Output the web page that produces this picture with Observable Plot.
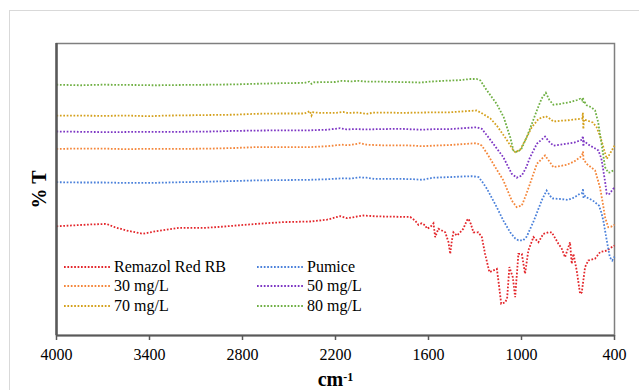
<!DOCTYPE html>
<html>
<head>
<meta charset="utf-8">
<script src="https://cdn.jsdelivr.net/npm/d3@7"></script>
<script src="https://cdn.jsdelivr.net/npm/@observablehq/plot@0.6"></script>
<style>
  html, body { margin: 0; padding: 0; background: #fff; }
  #wrap { position: relative; width: 639px; height: 390px; overflow: hidden; font-family: "Liberation Serif", "Times New Roman", serif; }
  #border { position: absolute; left: 9px; top: 10px; width: 700px; height: 500px; border: 1px solid #d9d9d9; box-sizing: border-box; }
  #legend { position: absolute; left: 64px; top: 257px; display: grid; grid-template-columns: 193px 160px; grid-auto-rows: 19.5px; }
  .item { display: flex; align-items: center; font-size: 16px; color: #000; white-space: nowrap; font-family: "Liberation Serif", serif; }
  .item svg { margin-right: 4px; }
</style>
</head>
<body>
<div id="wrap"><div id="border"></div></div>
<script>
// ---- data (wavenumber cm-1, %T offset as plotted) ----
const seriesNames = ["Remazol Red RB", "Pumice", "30 mg/L", "50 mg/L", "70 mg/L", "80 mg/L"];
const seriesColors = ["#e3262b", "#4a80da", "#f4863a", "#7d36c4", "#d4a01c", "#70b044"];
const xTicks = [4000, 3400, 2800, 2200, 1600, 1000, 400];

const remazol = [[4000,36.4],[3892,36.7],[3785,37],[3678,37.2],[3624,36.1],[3549,35],[3441,33.9],[3355,34.8],[3205,35.9],[3033,35.9],[2925,36.3],[2711,37.2],[2535,37.8],[2363,38],[2255,38.6],[2169,39.8],[2126,39.1],[2019,40],[1933,39.7],[1718,39.5],[1686,38.3],[1665,36.9],[1643,37.4],[1621,36.7],[1610,35.6],[1589,36.1],[1568,37.4],[1557,32.8],[1536,35.6],[1514,35],[1492,34.4],[1471,31.1],[1460,27.2],[1449,31.7],[1439,34.4],[1417,33.3],[1396,34.4],[1375,35.6],[1353,38.3],[1342,38.9],[1327,37.2],[1310,34.4],[1278,34.4],[1256,32.8],[1235,27.2],[1207,21.1],[1181,21.7],[1159,22.2],[1149,18.3],[1131,10.6],[1106,11],[1093,12.3],[1078,22.8],[1056,19.4],[1041,12.8],[1020,27.2],[998,27.2],[977,20.6],[956,28.3],[923,32.8],[891,31.1],[859,33.9],[827,34.4],[805,34.4],[762,30.6],[740,28.9],[719,26.1],[687,31.1],[676,23.9],[665,27.2],[644,21.7],[622,13.9],[611,14.4],[590,22.8],[569,25],[526,25.6],[493,27.8],[450,28.3],[410,29.7],[400,30]];

const pumice = [[4000,51.1],[3850,51],[3700,51],[3600,50.9],[3450,50.9],[3355,50.9],[3200,51.1],[3000,51.3],[2850,51.5],[2711,51.7],[2550,51.8],[2363,51.9],[2250,52.1],[2150,52.4],[2100,52.3],[2050,52.7],[2000,52.6],[1950,52.2],[1900,52.2],[1783,52.2],[1700,52.1],[1640,51.9],[1570,52.6],[1460,52.8],[1380,53],[1320,53.1],[1277,52.8],[1250,51],[1223,48.9],[1160,42.8],[1117,38.3],[1073,34.4],[1040,32.3],[1020,31.7],[990,31.7],[966,33],[920,38.3],[870,45],[838,48.3],[815,46.5],[800,45.7],[750,45.5],[700,45.2],[660,46],[622,47.3],[607,47.5],[603,49],[600,45.8],[590,46.5],[579,46],[540,45],[500,43.3],[485,41],[472,38.3],[450,31.7],[430,26.1],[415,25],[400,26.3]];

const c30 = [[4000,62.2],[3850,62.3],[3700,62.3],[3550,62.1],[3450,62.2],[3355,62.2],[3200,62.2],[3000,62.3],[2850,62.5],[2711,62.8],[2550,62.8],[2363,62.8],[2250,63.1],[2160,63.6],[2120,63.4],[2060,63.9],[2040,64.1],[2000,63.6],[1900,63.4],[1783,63.4],[1700,63.3],[1640,63.1],[1560,63.3],[1460,63.5],[1350,63.9],[1288,64.1],[1256,63.3],[1220,60.5],[1182,57.2],[1117,51.7],[1063,45],[1031,42.8],[998,43.3],[970,47],[945,50.6],[901,57.2],[848,60],[820,58],[794,56.1],[750,56.5],[708,56.9],[660,58],[622,59.4],[607,60.5],[603,61.3],[600,58.5],[590,58],[579,57.2],[525,55],[494,49.4],[475,44],[461,39.4],[440,36.1],[420,36.3],[408,36.7],[400,36.9]];

const c50 = [[4000,68],[3850,67.9],[3700,67.8],[3600,67.8],[3450,67.9],[3355,67.9],[3200,67.9],[3000,68],[2850,68.2],[2711,68.3],[2550,68.4],[2363,68.4],[2250,68.6],[2170,69.1],[2130,68.7],[2080,68.8],[2000,68.7],[1900,68.8],[1783,68.9],[1700,68.7],[1640,68.6],[1560,68.8],[1460,68.8],[1350,69.2],[1288,69.4],[1256,68.9],[1220,66.5],[1182,63.9],[1117,59.4],[1063,53.9],[1031,52.6],[998,53.3],[970,56],[945,59.4],[901,63.9],[848,66.3],[820,64.5],[794,63.3],[750,63.6],[708,63.9],[660,64.3],[622,65],[608,65.3],[604,66.5],[601,63],[597,64.8],[558,63.3],[530,62.5],[504,61.7],[485,59],[472,55],[460,51],[450,47.2],[433,47.2],[408,48.9],[400,49.3]];

const c70 = [[4000,73.3],[3850,73.3],[3700,73.2],[3550,73.3],[3400,73.1],[3300,73.3],[3150,73.4],[3000,73.5],[2850,73.6],[2711,73.9],[2550,74],[2400,74],[2365,74.8],[2355,73.3],[2345,74.4],[2300,74.2],[2200,74.2],[2150,74.5],[2126,74.2],[2050,74.3],[2000,73.9],[1950,74.3],[1850,74.3],[1783,74.2],[1650,74.3],[1550,74.4],[1460,74.4],[1350,74.8],[1290,75],[1256,74.1],[1200,72.3],[1160,70],[1100,65.6],[1052,61.7],[1040,61.1],[1009,61.9],[977,65],[934,69.4],[890,72.2],[843,73.1],[815,72.2],[794,71.3],[750,71.6],[708,71.7],[660,72],[622,72.2],[607,72.4],[604,74.3],[601,68.8],[597,72],[579,71.7],[540,71],[515,69.4],[490,66],[472,62.8],[450,58.9],[429,60.6],[400,63.3]];

const c80 = [[4000,83.6],[3850,83.4],[3700,83.6],[3500,83.5],[3355,83.4],[3200,83.5],[3000,83.6],[2850,83.7],[2711,83.9],[2550,84.1],[2400,84.2],[2370,84.6],[2355,83.9],[2340,84.4],[2200,84.5],[2160,84.9],[2100,84.7],[2050,84.9],[2000,84.6],[1900,84.6],[1800,84.5],[1700,84.4],[1650,84.3],[1600,84.6],[1500,84.9],[1400,85.1],[1330,85.5],[1290,85.5],[1265,85],[1230,82.2],[1160,77.2],[1115,72.8],[1073,66.1],[1052,61.7],[1035,61.2],[1020,61.4],[1000,62.3],[966,66.1],[930,71],[901,75],[870,79],[843,80.9],[820,78.5],[794,76.9],[750,77.2],[687,77.8],[640,78.5],[622,78.9],[610,78.4],[603,79.3],[598,77.2],[590,77.6],[579,76.7],[550,76.1],[525,75],[505,71],[494,67.3],[475,61],[461,56.1],[440,54.3],[429,54.4],[408,55],[400,55.2]];

const seriesData = [remazol, pumice, c30, c50, c70, c80];
const rows = seriesData.flatMap((arr, i) => arr.map(([wn, t]) => ({series: seriesNames[i], wn, t})));

const dash = "1.7,1.7";
const serif = "'Liberation Serif', 'Times New Roman', serif";
const chart = Plot.plot({
  width: 639,
  height: 390,
  marginLeft: 56,
  marginRight: 25,
  marginTop: 43,
  marginBottom: 55,
  style: {fontFamily: serif, fontSize: "16px", color: "#000", background: "transparent", overflow: "visible"},
  x: {domain: [4000, 400]},
  y: {domain: [0, 97.33], axis: null},
  color: {domain: seriesNames, range: seriesColors},
  marks: [
    Plot.frame({stroke: "#7f7f7f", strokeWidth: 1.5}),
    Plot.line(rows, {x: "wn", y: "t", z: "series", stroke: "series", strokeWidth: 1.8, strokeDasharray: dash, className: "spectra"}),
    Plot.ruleX([4000], {stroke: "#595959", strokeWidth: 2.5}),
    Plot.ruleY([0], {stroke: "#595959", strokeWidth: 2}),
    Plot.axisX({ticks: xTicks, tickFormat: d => String(d), tickSize: 5, tickPadding: 8, label: null, fontSize: 16, fontFamily: serif, stroke: "#595959", strokeWidth: 1.5}),
    Plot.text(["% T"], {frameAnchor: "left", dx: -17, rotate: -90, textAnchor: "middle", lineAnchor: "middle", fontWeight: "bold", fontSize: 20, fontFamily: serif}),
    Plot.text(["cm-1"], {frameAnchor: "bottom", dy: 44, textAnchor: "middle", lineAnchor: "middle", fontWeight: "bold", fontSize: 20, fontFamily: serif})
  ]
});
document.getElementById("wrap").appendChild(chart);
chart.style.position = "absolute";
chart.style.left = "0px";
chart.style.top = "0px";

// make sure the spectra are drawn with round-dot style
d3.select(chart).selectAll(".spectra path, g.spectra path")
  .attr("stroke-dasharray", dash).attr("stroke-linecap", "butt").attr("stroke-linejoin", "miter");

// superscript for the x label
d3.select(chart).selectAll("text").filter(function() { return this.textContent === "cm-1"; }).each(function() {
  const t = d3.select(this);
  t.text("cm");
  t.append("tspan").attr("dy", "-0.45em").attr("font-size", "12").text("-1");
});

// legend
const legend = d3.select("#wrap").append("div").attr("id", "legend");
seriesNames.forEach((name, i) => {
  const it = legend.append("div").attr("class", "item");
  const s = it.append("svg").attr("width", 46).attr("height", 6);
  s.append("line").attr("x1", 0).attr("x2", 46).attr("y1", 3).attr("y2", 3)
    .attr("stroke", seriesColors[i]).attr("stroke-width", 1.8).attr("stroke-dasharray", dash);
  it.append("span").text(name);
});
</script>
</body>
</html>
